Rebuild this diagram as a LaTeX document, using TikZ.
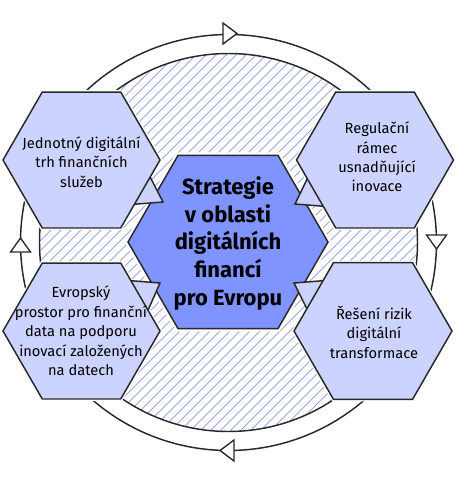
\documentclass[tikz,border=0pt]{standalone}
\usepackage{fontspec}
\setmainfont{Fira Sans}
\definecolor{hexlight}{RGB}{204,211,255}
\definecolor{hexdark}{RGB}{128,148,255}
\definecolor{hatchcol}{RGB}{150,165,240}
\definecolor{edgecol}{RGB}{40,40,40}
\newcommand{\hexag}[3]{(#1+#3,#2) -- (#1+0.5*#3,#2+0.866*#3) -- (#1-0.5*#3,#2+0.866*#3) -- (#1-#3,#2) -- (#1-0.5*#3,#2-0.866*#3) -- (#1+0.5*#3,#2-0.866*#3) -- cycle}
\tikzset{
  edge/.style={draw=edgecol, line width=1.1pt, line join=miter},
  band/.style={draw=white, line width=4.5pt, line join=miter},
  hatch/.style={draw=hatchcol, line width=0.6pt},
  outerhex/.style={edge, fill=hexlight},
  centerhex/.style={edge, fill=hexdark},
  tailshape/.style={edge, fill=hexlight},
  arrowtri/.style={edge, fill=white, line width=1pt},
  smalltext/.style={align=center, text=black, font=\fontsize{11}{14.6}\selectfont, inner sep=0pt},
  bigtext/.style={align=center, text=black, font=\fontsize{16.5}{20.8}\selectfont\bfseries, inner sep=0pt}
}
\begin{document}
\begin{tikzpicture}[x=0.75pt,y=-0.75pt]
\useasboundingbox (0,0) rectangle (458,483);
\coordinate (C) at (228.5,242.5);
% outer cycle ring
\draw[edge] (C) circle (208);
% hatched disc
\begin{scope}
  \clip (C) circle (189);
  \foreach \k in {-45,...,45} {
    \draw[hatch] ({228.5+\k*10-260},{242.5+260}) -- ++(520,-520);
  }
\end{scope}
\draw[edge] (C) circle (189);
% arrowheads
\draw[arrowtri] (223,23) -- (237,33.5) -- (223,44) -- cycle;
\draw[arrowtri] (426.5,235) -- (446.5,235) -- (436.5,249) -- cycle;
\draw[arrowtri] (234,440) -- (220,450.5) -- (234,461) -- cycle;
\draw[arrowtri] (10.5,252) -- (30.5,252) -- (20.5,238) -- cycle;
% white bands
\path[band] \hexag{228}{242}{100};
\path[band, line width=3pt] \hexag{81.5}{160}{78.5};
\path[band, line width=3pt] \hexag{375}{160}{78.5};
\path[band, line width=3pt] \hexag{81.5}{331}{78.5};
\path[band, line width=3pt] \hexag{373}{331}{79};
% center hexagon
\path[centerhex] \hexag{228}{242}{100};
% tails
\path[tailshape] (163,202) -- (145,167) -- (124,205) -- cycle;
\path[tailshape] (295,204) -- (312,169) -- (333,207) -- cycle;
\path[tailshape] (160,283) -- (122,280) -- (145,317) -- cycle;
\path[tailshape] (294,283) -- (332,280) -- (311,317) -- cycle;
% outer hexagons
\path[outerhex] \hexag{81.5}{160}{78.5};
\path[outerhex] \hexag{375}{160}{78.5};
\path[outerhex] \hexag{81.5}{331}{78.5};
\path[outerhex] \hexag{373}{331}{79};
% texts
\node[bigtext] (centre) at (228,243.5) {Strategie\\v oblasti\\digitálních\\financí\\pro Evropu};
\node[smalltext] (tl) at (81.5,162) {Jednotný digitální\\trh finančních\\služeb};
\node[smalltext] (tr) at (377,157) {Regulační\\rámec\\usnadňující\\inovace};
\node[smalltext] (bl) at (81,331) {Evropský\\prostor pro finanční\\data na podporu\\inovací založených\\na datech};
\node[smalltext] (br) at (374,332) {Řešení rizik\\digitální\\transformace};
\end{tikzpicture}
\end{document}
